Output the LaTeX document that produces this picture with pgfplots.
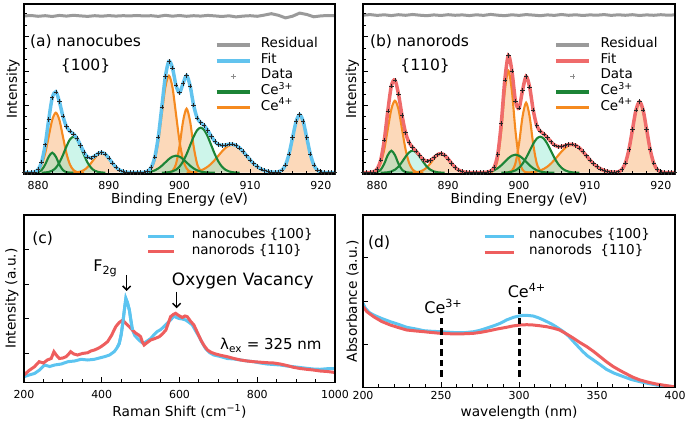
\documentclass[border=0pt]{standalone}
\usepackage{fontspec}
\setmainfont{DejaVu Sans}
\usepackage{pgfplots}
\usepackage{pgfplotstable}
\pgfplotsset{compat=1.18}
\usetikzlibrary{arrows.meta}

\definecolor{fitblue}{HTML}{62C3EE}
\definecolor{fitred}{HTML}{EF6B6B}
\definecolor{cefour}{HTML}{F58A1F}
\definecolor{cethree}{HTML}{1C8436}
\definecolor{cefourfill}{HTML}{F9A55A}
\definecolor{cethreefill}{HTML}{6FE3C2}
\definecolor{resgray}{HTML}{9A9A9A}
\definecolor{lineblue}{HTML}{5CC4F0}
\definecolor{linered}{HTML}{EE5E5E}

\newcommand{\fs}[1]{\fontsize{#1}{#1}\selectfont}

% ---------------- panel (a) components ----------------
\pgfplotstableread{
x y
879.0 0
879.5 0.08
880.0 0.57
880.5 2.71
881.0 8.22
881.5 16.01
882.0 20
882.5 16.01
883.0 8.22
883.5 2.71
884.0 0.57
884.5 0.08
885.0 0
}\paA
\pgfplotstableread{
x y
878.5 0
879.0 0.13
879.5 0.67
880.0 2.63
880.5 8.12
881.0 19.48
881.5 36.39
882.0 52.95
882.5 60
883.0 52.95
883.5 36.39
884.0 19.48
884.5 8.12
885.0 2.63
885.5 0.67
886.0 0.13
886.5 0
}\paB
\pgfplotstableread{
x y
880.5 0.05
881.0 0.22
881.5 0.71
882.0 2.02
882.5 4.87
883.0 10.01
883.5 17.52
884.0 26.14
884.5 33.23
885.0 36
885.5 33.23
886.0 26.14
886.5 17.52
887.0 10.01
887.5 4.87
888.0 2.02
888.5 0.71
889.0 0.22
889.5 0.05
}\paC
\pgfplotstableread{
x y
884.5 0.03
885.0 0.12
885.5 0.40
886.0 1.12
886.5 2.71
887.0 5.56
887.5 9.74
888.0 14.52
888.5 18.46
889.0 20
889.5 18.46
890.0 14.52
890.5 9.74
891.0 5.56
891.5 2.71
892.0 1.12
892.5 0.40
893.0 0.12
893.5 0.03
}\paD
\pgfplotstableread{
x y
894.5 0.03
895.0 0.21
895.5 1.08
896.0 4.26
896.5 13.12
897.0 31.5
897.5 58.83
898.0 85.6
898.5 97
899.0 85.6
899.5 58.83
900.0 31.5
900.5 13.12
901.0 4.26
901.5 1.08
902.0 0.21
902.5 0.03
}\paE
\pgfplotstableread{
x y
894.0 0.02
894.5 0.07
895.0 0.19
895.5 0.49
896.0 1.12
896.5 2.30
897.0 4.24
897.5 6.99
898.0 10.31
898.5 13.61
899.0 16.08
899.5 17
900.0 16.08
900.5 13.61
901.0 10.31
901.5 6.99
902.0 4.24
902.5 2.30
903.0 1.12
903.5 0.49
904.0 0.19
904.5 0.07
905.0 0.02
}\paF
\pgfplotstableread{
x y
898.0 0.02
898.5 0.25
899.0 1.83
899.5 8.66
900.0 26.31
900.5 51.24
901.0 64
901.5 51.24
902.0 26.31
902.5 8.66
903.0 1.83
903.5 0.25
904.0 0.02
}\paG
\pgfplotstableread{
x y
897.5 0.05
898.0 0.18
898.5 0.5
899.0 1.29
899.5 2.96
900.0 6.09
900.5 11.22
901.0 18.5
901.5 27.29
902.0 36.03
902.5 42.57
903.0 45
903.5 42.57
904.0 36.03
904.5 27.29
905.0 18.5
905.5 11.22
906.0 6.09
906.5 2.96
907.0 1.29
907.5 0.5
908.0 0.18
908.5 0.05
}\paH
\pgfplotstableread{
x y
901.0 0.14
901.5 0.31
902.0 0.64
902.5 1.23
903.0 2.23
903.5 3.79
904.0 6.06
904.5 9.09
905.0 12.82
905.5 16.98
906.0 21.13
906.5 24.71
907.0 27.14
907.5 28
908.0 27.14
908.5 24.71
909.0 21.13
909.5 16.98
910.0 12.82
910.5 9.09
911.0 6.06
911.5 3.79
912.0 2.23
912.5 1.23
913.0 0.64
913.5 0.31
914.0 0.14
}\paI
\pgfplotstableread{
x y
913.0 0.02
913.5 0.13
914.0 0.64
914.5 2.55
915.0 7.85
915.5 18.83
916.0 35.18
916.5 51.19
917.0 58
917.5 51.19
918.0 35.18
918.5 18.83
919.0 7.85
919.5 2.55
920.0 0.64
920.5 0.13
921.0 0.02
}\paJ
\pgfplotstableread{
x y
878.0 0
878.5 0
879.0 0.13
879.5 0.75
880.0 3.2
880.5 10.88
881.0 27.92
881.5 53.11
882.0 74.97
882.5 80.88
883.0 71.18
883.5 56.62
884.0 46.19
884.5 41.43
885.0 38.75
885.5 34.3
886.0 27.39
886.5 20.23
887.0 15.57
887.5 14.61
888.0 16.54
888.5 19.17
889.0 20.22
889.5 18.5
890.0 14.52
890.5 9.74
891.0 5.56
891.5 2.71
892.0 1.12
892.5 0.40
893.0 0.12
893.5 0.03
894.0 0.02
894.5 0.1
895.0 0.4
895.5 1.57
896.0 5.38
896.5 15.42
897.0 35.74
897.5 65.87
898.0 96.1
898.5 111.36
899.0 104.8
899.5 87.45
900.0 79.98
900.5 89.19
901.0 97.21
901.5 86.91
902.0 67.43
902.5 54.76
903.0 50.18
903.5 47.1
904.0 42.28
904.5 36.38
905.0 31.32
905.5 28.2
906.0 27.22
906.5 27.67
907.0 28.43
907.5 28.5
908.0 27.32
908.5 24.76
909.0 21.13
909.5 16.98
910.0 12.82
910.5 9.09
911.0 6.06
911.5 3.79
912.0 2.23
912.5 1.23
913.0 0.66
913.5 0.44
914.0 0.78
914.5 2.55
915.0 7.85
915.5 18.83
916.0 35.18
916.5 51.19
917.0 58
917.5 51.19
918.0 35.18
918.5 18.83
919.0 7.85
919.5 2.55
920.0 0.64
920.5 0.13
921.0 0.02
921.5 0
922.0 0
}\pafit

% ---------------- panel (b) components ----------------
\pgfplotstableread{
x y
879.0 0
879.5 0.09
880.0 0.63
880.5 2.98
881.0 9.04
881.5 17.62
882.0 22
882.5 17.62
883.0 9.04
883.5 2.98
884.0 0.63
884.5 0.09
885.0 0
}\pbA
\pgfplotstableread{
x y
878.5 0
879.0 0.16
879.5 0.80
880.0 3.16
880.5 9.74
881.0 23.38
881.5 43.67
882.0 63.54
882.5 72
883.0 63.54
883.5 43.67
884.0 23.38
884.5 9.74
885.0 3.16
885.5 0.80
886.0 0.16
886.5 0
}\pbB
\pgfplotstableread{
x y
880.5 0.03
881.0 0.13
881.5 0.44
882.0 1.23
882.5 2.98
883.0 6.12
883.5 10.71
884.0 15.97
884.5 20.31
885.0 22
885.5 20.31
886.0 15.97
886.5 10.71
887.0 6.12
887.5 2.98
888.0 1.23
888.5 0.44
889.0 0.13
889.5 0.03
}\pbC
\pgfplotstableread{
x y
884.5 0.03
885.0 0.11
885.5 0.38
886.0 1.07
886.5 2.57
887.0 5.28
887.5 9.25
888.0 13.80
888.5 17.54
889.0 19
889.5 17.54
890.0 13.80
890.5 9.25
891.0 5.28
891.5 2.57
892.0 1.07
892.5 0.38
893.0 0.11
893.5 0.03
}\pbD
\pgfplotstableread{
x y
895.5 0
896.0 0.4
896.5 2.92
897.0 13.8
897.5 41.93
898.0 81.67
898.5 102
899.0 81.67
899.5 41.93
900.0 13.8
900.5 2.92
901.0 0.4
901.5 0
}\pbE
\pgfplotstableread{
x y
894.0 0.02
894.5 0.07
895.0 0.2
895.5 0.51
896.0 1.18
896.5 2.44
897.0 4.49
897.5 7.4
898.0 10.92
898.5 14.41
899.0 17.03
899.5 18
900.0 17.03
900.5 14.41
901.0 10.92
901.5 7.4
902.0 4.49
902.5 2.44
903.0 1.18
903.5 0.51
904.0 0.2
904.5 0.07
905.0 0.02
}\pbF
\pgfplotstableread{
x y
898.0 0.02
898.5 0.27
899.0 2.0
899.5 9.47
900.0 28.78
900.5 56.05
901.0 70
901.5 56.05
902.0 28.78
902.5 9.47
903.0 2.0
903.5 0.27
904.0 0.02
}\pbG
\pgfplotstableread{
x y
897.5 0.04
898.0 0.14
898.5 0.4
899.0 1.03
899.5 2.37
900.0 4.87
900.5 8.98
901.0 14.8
901.5 21.83
902.0 28.83
902.5 34.06
903.0 36
903.5 34.06
904.0 28.83
904.5 21.83
905.0 14.8
905.5 8.98
906.0 4.87
906.5 2.37
907.0 1.03
907.5 0.4
908.0 0.14
908.5 0.04
}\pbH
\pgfplotstableread{
x y
913.0 0.02
913.5 0.16
914.0 0.79
914.5 3.12
915.0 9.61
915.5 23.05
916.0 43.06
916.5 62.66
917.0 71
917.5 62.66
918.0 43.06
918.5 23.05
919.0 9.61
919.5 3.12
920.0 0.79
920.5 0.16
921.0 0.02
}\pbJ
\pgfplotstableread{
x y
878.0 0
878.5 0
879.0 0.16
879.5 0.89
880.0 3.79
880.5 12.72
881.0 32.55
881.5 61.73
882.0 86.77
882.5 92.6
883.0 78.7
883.5 57.36
884.0 39.98
884.5 30.14
885.0 25.27
885.5 21.49
886.0 17.2
886.5 13.28
887.0 11.4
887.5 12.23
888.0 15.03
888.5 17.98
889.0 19.13
889.5 17.57
890.0 13.80
890.5 9.25
891.0 5.28
891.5 2.57
892.0 1.07
892.5 0.38
893.0 0.11
893.5 0.03
894.0 0.02
894.5 0.07
895.0 0.2
895.5 0.51
896.0 1.58
896.5 5.36
897.0 18.29
897.5 49.37
898.0 92.75
898.5 117.08
899.0 101.73
899.5 71.77
900.0 64.48
900.5 82.36
901.0 96.26
901.5 85.59
902.0 62.74
902.5 47.2
903.0 41.41
903.5 38.63
904.0 35.09
904.5 30.99
905.0 27.62
905.5 25.96
906.0 26.0
906.5 27.08
907.0 28.17
907.5 28.4
908.0 27.28
908.5 24.75
909.0 21.13
909.5 16.98
910.0 12.82
910.5 9.09
911.0 6.06
911.5 3.79
912.0 2.23
912.5 1.23
913.0 0.66
913.5 0.47
914.0 0.93
914.5 3.12
915.0 9.61
915.5 23.05
916.0 43.06
916.5 62.66
917.0 71
917.5 62.66
918.0 43.06
918.5 23.05
919.0 9.61
919.5 3.12
920.0 0.79
920.5 0.16
921.0 0.02
921.5 0
922.0 0
}\pbfit

\newcommand{\compfill}[3]{\addplot[draw=none, fill=#1, fill opacity=#2, smooth, forget plot] table {#3} \closedcycle;}
\newcommand{\compline}[2]{\addplot[#1, line width=2.1pt, smooth, forget plot] table {#2};}

\pgfplotsset{
  panel/.style={scale only axis, anchor=south west, axis on top,
    axis line style={line width=1.1pt},
    every tick/.style={black, line width=0.9pt},
    major tick length=5pt, minor tick length=3pt,
    tick align=inside, tick pos=left,
    yticklabels={},
    /pgf/number format/assume math mode=true,
    /pgf/number format/1000 sep={},
    ticklabel style={font=\fs{11}},
    label style={font=\fs{13.7}},
    legend cell align=left,
    legend style={draw=none, fill=none, inner sep=0pt, outer sep=0pt,
      anchor=north west, font=\fs{13.5}, row sep=0.6pt,
      nodes={inner sep=0pt, text height=10pt, text depth=5pt}},
  },
  xps/.style={panel, width=#1, height=170pt,
    xmin=878, xmax=922, ymin=-1.3, ymax=168.7,
    xtick={880,890,...,920}, minor x tick num=4,
    ytick={33,67.3,101.6,135.9},
    minor ytick={10.1,21.6,44.4,55.9,78.7,90.2,113,124.5,147.3,158.8},
    xticklabel style={yshift=-4.3pt},
    xlabel={Binding Energy (eV)},
    ylabel={Intensity},
    xlabel style={at={(axis description cs:0.5,-0.176)}, anchor=base},
    legend image code/.code={\draw[mark repeat=2, mark phase=2, ##1] plot coordinates {(0pt,0pt) (16.5pt,0pt) (33pt,0pt)};},
    legend style={at={(rel axis cs:0.614,0.802)},
      /tikz/every odd column/.append style={column sep=9.5pt}},
  },
}

\begin{document}
\begin{tikzpicture}
\useasboundingbox (0pt,0pt) rectangle (685pt,425pt);

% ================= (a) =================
\begin{axis}[xps=311pt, at={(24pt,251pt)},
  ylabel style={at={(axis description cs:-0.023,0.5)}, anchor=base}]
\addlegendimage{resgray, line width=3.5pt}\addlegendentry{Residual}
\addlegendimage{fitblue, line width=3.5pt}\addlegendentry{Fit}
\addlegendimage{only marks, mark=+, black!45, mark size=2.5pt, mark options={line width=0.6pt}}\addlegendentry{Data}
\addlegendimage{cethree, line width=3.5pt}\addlegendentry{Ce\textsuperscript{3+}}
\addlegendimage{cefour, line width=3.5pt}\addlegendentry{Ce\textsuperscript{4+}}
\compfill{cefourfill}{0.42}{\paB}\compfill{cefourfill}{0.42}{\paD}\compfill{cefourfill}{0.42}{\paE}
\compfill{cefourfill}{0.42}{\paG}\compfill{cefourfill}{0.42}{\paI}\compfill{cefourfill}{0.42}{\paJ}
\compfill{cethreefill}{0.35}{\paA}\compfill{cethreefill}{0.35}{\paC}\compfill{cethreefill}{0.35}{\paF}\compfill{cethreefill}{0.35}{\paH}
\compline{cefour}{\paB}\compline{cefour}{\paD}\compline{cefour}{\paE}
\compline{cefour}{\paG}\compline{cefour}{\paI}\compline{cefour}{\paJ}
\compline{cethree}{\paA}\compline{cethree}{\paC}\compline{cethree}{\paF}\compline{cethree}{\paH}
\addplot[only marks, mark=+, mark size=2.2pt, black!85, mark options={line width=0.55pt}, forget plot] table {\pafit};
\addplot[fitblue, line width=3.5pt, smooth, forget plot] table {\pafit};
\addplot[resgray, line width=3pt, forget plot] coordinates {
(878,156.7) (879,157.2) (880,156.4) (881,157.0) (882,156.2) (883,157.3) (884,156.6)
(885,157.4) (886,156.8) (887,156.3) (888,157.0) (889,156.5) (890,157.1) (891,156.6)
(892,157.0) (893,156.8) (894,157.2) (895,156.7) (896,157.0) (897,156.3) (898,157.4)
(899,156.5) (900,157.2) (901,156.4) (902,157.0) (903,156.6) (904,157.3) (905,156.8)
(906,156.2) (907,156.9) (908,155.8) (909,156.6) (910,157.0) (911,156.4) (912,157.6)
(913,159.0) (914,157.4) (915,154.8) (916,156.5) (917,159.6) (918,158.2) (919,155.9)
(920,156.8) (921,157.2) (922,156.9)};
\node[anchor=base west, inner sep=0pt, font=\fs{15.5}] at (rel axis cs:0.019,0.751) {(a) nanocubes};
\node[anchor=base, inner sep=0pt, font=\fs{15.5}] at (rel axis cs:0.198,0.607) {\{100\}};
\end{axis}

% ================= (b) =================
\begin{axis}[xps=312pt, at={(363pt,251pt)},
  ylabel style={at={(axis description cs:-0.022,0.5)}, anchor=base}]
\addlegendimage{resgray, line width=3.5pt}\addlegendentry{Residual}
\addlegendimage{fitred, line width=3.5pt}\addlegendentry{Fit}
\addlegendimage{only marks, mark=+, black!45, mark size=2.5pt, mark options={line width=0.6pt}}\addlegendentry{Data}
\addlegendimage{cethree, line width=3.5pt}\addlegendentry{Ce\textsuperscript{3+}}
\addlegendimage{cefour, line width=3.5pt}\addlegendentry{Ce\textsuperscript{4+}}
\compfill{cefourfill}{0.42}{\pbB}\compfill{cefourfill}{0.42}{\pbD}\compfill{cefourfill}{0.42}{\pbE}
\compfill{cefourfill}{0.42}{\pbG}\compfill{cefourfill}{0.42}{\paI}\compfill{cefourfill}{0.42}{\pbJ}
\compfill{cethreefill}{0.35}{\pbA}\compfill{cethreefill}{0.35}{\pbC}\compfill{cethreefill}{0.35}{\pbF}\compfill{cethreefill}{0.35}{\pbH}
\compline{cefour}{\pbB}\compline{cefour}{\pbD}\compline{cefour}{\pbE}
\compline{cefour}{\pbG}\compline{cefour}{\paI}\compline{cefour}{\pbJ}
\compline{cethree}{\pbA}\compline{cethree}{\pbC}\compline{cethree}{\pbF}\compline{cethree}{\pbH}
\addplot[only marks, mark=+, mark size=2.2pt, black!85, mark options={line width=0.55pt}, forget plot] table {\pbfit};
\addplot[fitred, line width=3.5pt, smooth, forget plot] table {\pbfit};
\addplot[resgray, line width=3pt, forget plot] coordinates {
(878,157.5) (879,158.1) (880,157.3) (881,157.9) (882,157.1) (883,158.0) (884,157.4)
(885,158.2) (886,157.5) (887,157.0) (888,157.8) (889,157.2) (890,158.0) (891,157.4)
(892,157.8) (893,157.1) (894,157.9) (895,157.3) (896,158.3) (897,157.5) (898,157.0)
(899,157.9) (900,157.3) (901,158.1) (902,157.6) (903,157.0) (904,157.8) (905,157.3)
(906,158.2) (907,157.4) (908,157.9) (909,157.2) (910,157.8) (911,157.5) (912,158.1)
(913,157.3) (914,157.9) (915,157.4) (916,158.0) (917,157.2) (918,157.8) (919,157.4)
(920,158.0) (921,157.5) (922,157.8)};
\node[anchor=base west, inner sep=0pt, font=\fs{15.5}] at (rel axis cs:0.022,0.751) {(b) nanorods};
\node[anchor=base, inner sep=0pt, font=\fs{15.5}] at (rel axis cs:0.199,0.607) {\{110\}};
\end{axis}

% ================= (c) =================
\begin{axis}[panel, width=311pt, height=167.5pt, at={(24pt,42.5pt)},
  xmin=200, xmax=1000, ymin=0, ymax=167.5,
  xtick={200,400,...,1000}, minor x tick num=3,
  ytick={29.5,64,98.5,133},
  xticklabel style={yshift=-4.8pt},
  xlabel={Raman Shift (cm\textsuperscript{−1})},
  ylabel={Intensity (a.u.)},
  xlabel style={at={(axis description cs:0.5,-0.204)}, anchor=base},
  ylabel style={at={(axis description cs:-0.027,0.5)}, anchor=base},
  legend image code/.code={\draw[#1] (0pt,0pt) -- (26pt,0pt);},
  legend style={at={(rel axis cs:0.395,0.917)},
    /tikz/every odd column/.append style={column sep=16pt}}]
\addplot[lineblue, line width=3pt] coordinates {
(200,5.8) (213,7.5) (227,9) (240,12.5) (253,17.5) (266,16) (279,17.5) (296,18.5) (313,20.8)
(330,21.5) (347,23.2) (364,22.5) (381,23.2) (394,24.5) (407,25.8) (420,27.5) (432,30.8)
(440,35) (445,39) (450,48) (454,59) (458,72) (462,84) (466,80) (471,72.5) (475,62)
(479,52.5) (485,47) (492,44) (500,41) (507,39) (515,41) (526,44) (535,48) (543,51)
(552,53) (560,56) (568,59) (577,62.5) (586,66.5) (592,65) (599,64) (607,63.5) (616,62.5)
(625,60) (633,57.5) (641,52) (650,46) (658,40) (667,34) (677,30) (688,27.5) (705,26)
(723,24) (740,23.5) (757,22.5) (774,21.5) (791,20.8) (808,19.5) (825,18.5) (842,18)
(859,17.5) (876,16.5) (893,15.8) (910,15) (927,14.2) (944,13.5) (962,13.2) (980,13.8) (1000,14)};
\addlegendentry{nanocubes \{100\}}
\addplot[linered, line width=3pt] coordinates {
(200,7.5) (213,12) (227,15.8) (239,20.8) (250,19.5) (260,22.5) (270,24) (277,30.8) (284,27)
(291,24) (300,24.5) (308,25.8) (314,28) (320,30.8) (328,28.5) (338,27.5) (350,29) (364,29.8)
(372,31.5) (381,32.5) (390,34) (398,35.8) (406,38) (415,40.8) (425,47) (436,55.8) (445,60)
(454,62.5) (462,59) (471,55.8) (480,52) (488,49.2) (495,47.5) (500,45.8) (504,41) (509,37.5)
(517,40) (526,42.5) (537,44) (548,45.8) (556,48.5) (565,52.5) (571,59) (577,65.8) (584,68)
(590,69.2) (598,67) (607,65) (614,66.5) (620,65.8) (628,61.5) (637,57.5) (646,50) (655,42.5)
(663,37) (672,32.5) (682,30) (693,28.5) (708,27) (723,25.8) (740,24) (757,22.5) (774,21.5)
(791,20.8) (808,20.3) (825,19.8) (842,19.5) (859,18.5) (876,17) (893,15.2) (910,14) (927,13.2)
(944,12.5) (962,11.5) (980,11) (1000,10)};
\addlegendentry{nanorods \{110\}}
\addplot[lineblue, line width=3pt, forget plot] coordinates {
(440,35) (445,39) (450,48) (454,59) (458,72) (462,84) (466,80) (471,72.5) (475,62) (479,52.5)};
\addplot[black, line width=1.5pt, -{Straight Barb[length=4pt,width=8pt]}, forget plot] coordinates {(464,107.5) (464,91.5)};
\addplot[black, line width=1.5pt, -{Straight Barb[length=4pt,width=8pt]}, forget plot] coordinates {(592.7,90.8) (592.7,74.2)};
\node[anchor=base west, inner sep=0pt, font=\fs{16}] at (axis cs:378,110.8) {F\textsubscript{2g}};
\node[anchor=base west, inner sep=0pt, font=\fs{17}] at (axis cs:580,96.5) {Oxygen Vacancy};
\node[anchor=base west, inner sep=0pt, font=\fs{15}] at (axis cs:704,32.5) {λ\textsubscript{ex} = 325 nm};
\node[anchor=base west, inner sep=0pt, font=\fs{15.5}] at (rel axis cs:0.026,0.829) {(c)};
\end{axis}

% ================= (d) =================
\begin{axis}[panel, width=312pt, height=172.5pt, at={(363pt,37.5pt)},
  xmin=200, xmax=400, ymin=0, ymax=172.5,
  xtick={200,250,...,400}, minor x tick num=4,
  ytick={43,86.3,129.6},
  xlabel={wavelength (nm)},
  ylabel={Absorbance (a.u.)},
  xlabel style={at={(axis description cs:0.5,-0.169)}, anchor=base},
  ylabel style={at={(axis description cs:-0.02,0.5)}, anchor=base},
  legend image code/.code={\draw[#1] (0pt,0pt) -- (29pt,0pt);},
  legend style={at={(rel axis cs:0.385,0.919)},
    /tikz/every odd column/.append style={column sep=14pt}}]
\addplot[lineblue, line width=3pt] coordinates {
(200,84.2) (201.5,79.2) (204,75) (206.8,72.5) (212,69) (217.5,65.8) (223,63) (228,60.2)
(234,58.5) (239,56.8) (244,56.2) (249.5,55.8) (255,55.3) (260,54.8) (266,55) (271,55.8)
(275,57.2) (279,59.2) (284,61.8) (288,64.2) (292,67.5) (296.5,70.2) (300,71.5) (303,72.2)
(306,72) (309,71.5) (312,70) (315.7,67.5) (319,65) (322,62.5) (325,59.5) (328.5,55.8)
(332,51) (335,45.8) (338,40.8) (341,35.8) (344,31.5) (347.7,27.5) (352,22.8) (356,18.2)
(361,14.3) (367,10.8) (372,8) (377.6,5.8) (383,4) (388,2.5) (394,1.5) (399,0.8) (400,0.7)};
\addlegendentry{nanocubes \{100\}}
\addplot[linered, line width=3pt] coordinates {
(200,80.8) (202.5,75.8) (206.8,70.8) (212,66) (217.5,62.5) (223,59.8) (228,57.5) (234,56.5)
(239,55.8) (244,55) (249.5,54.2) (255,53.8) (260,53.5) (266,53.8) (271,54.2) (276,55.3)
(281,56.8) (286,58.5) (292,60.2) (296,61.5) (300.7,62.5) (305,62.8) (309,62.5) (313,61.8)
(317.7,60.8) (322,59.3) (326,57.5) (330,54) (335,49.2) (339,45) (343.5,40.8) (348,35.8)
(352,30.8) (356,25.8) (360.5,20.8) (365,16.8) (369,13.5) (373,10.3) (377.6,7.5) (383,5.2)
(388,3.5) (394,2) (399,0.8) (400,0.7)};
\addlegendentry{nanorods\ \ \{110\}}
\addplot[black, line width=3pt, dash pattern=on 6.5pt off 4pt, forget plot] coordinates {(250,10.8) (250,70.8)};
\addplot[black, line width=3pt, dash pattern=on 6.5pt off 4pt, forget plot] coordinates {(300,10.8) (300,86.8)};
\node[anchor=base, inner sep=0pt, font=\fs{16}] at (axis cs:251.5,73.5) {Ce\textsuperscript{3+}};
\node[anchor=base, inner sep=0pt, font=\fs{16}] at (axis cs:305,89.5) {Ce\textsuperscript{4+}};
\node[anchor=base west, inner sep=0pt, font=\fs{15.5}] at (rel axis cs:0.016,0.812) {(d)};
\end{axis}
\end{tikzpicture}
\end{document}
